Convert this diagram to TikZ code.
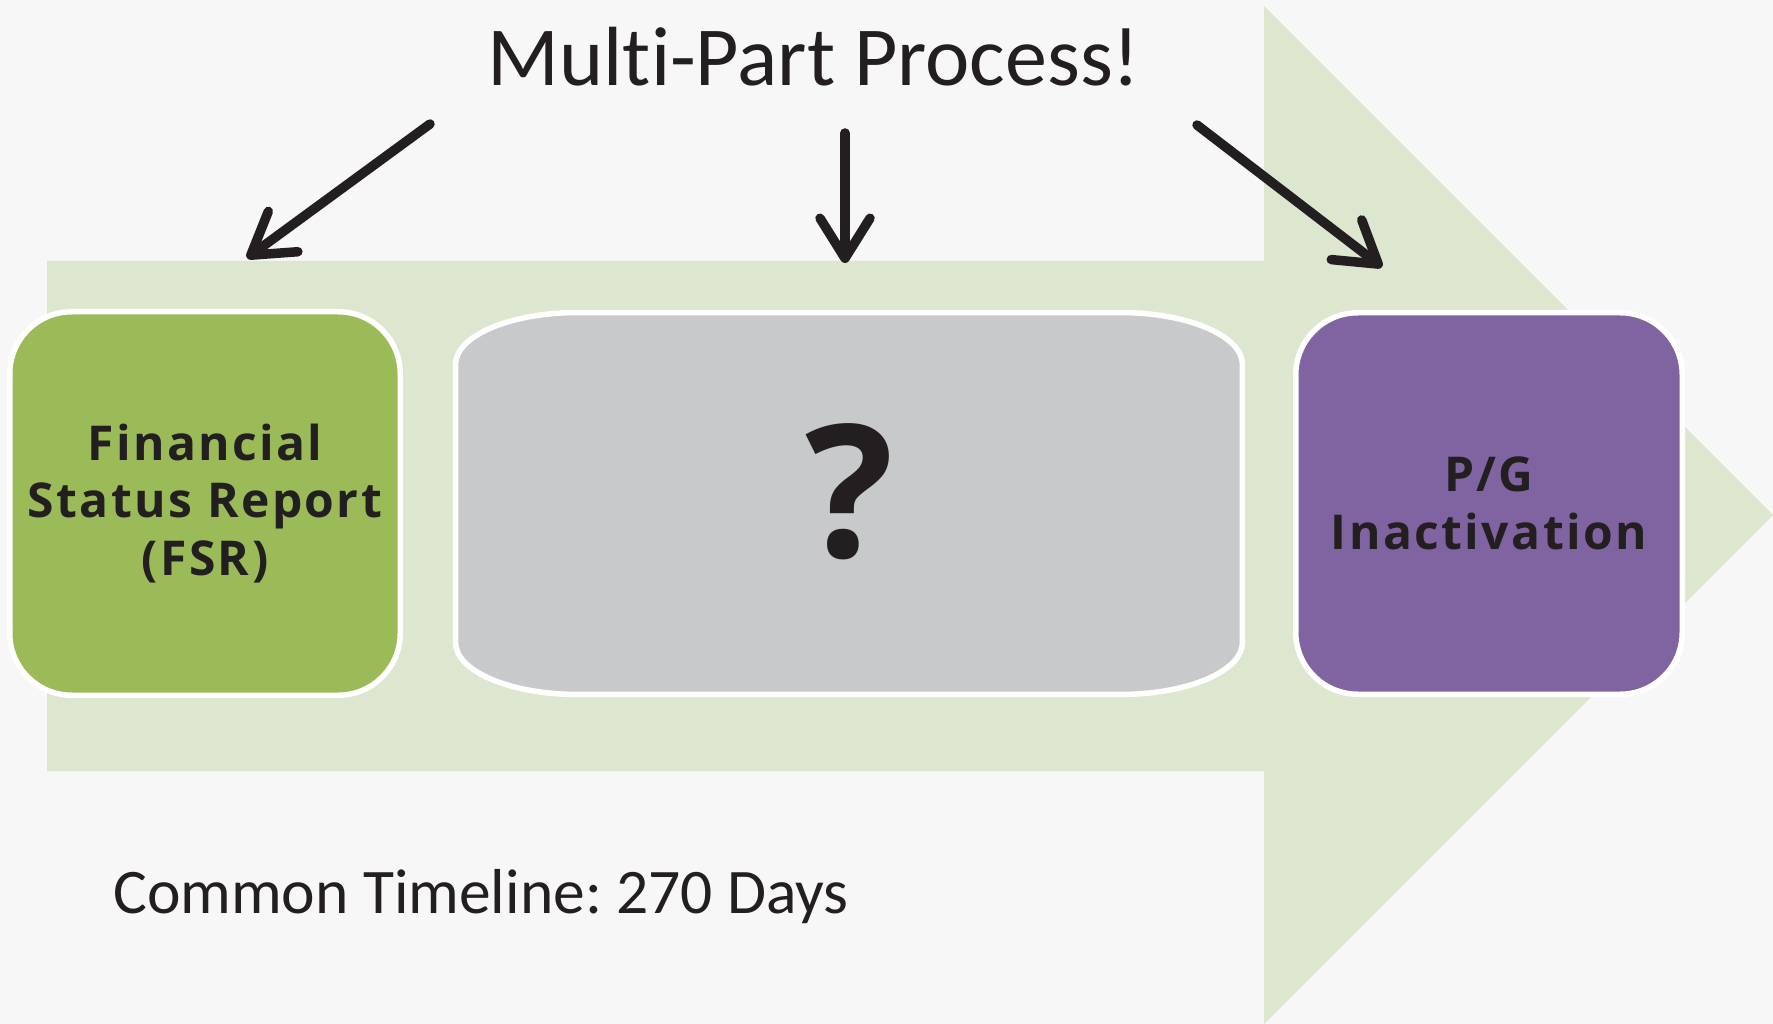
\documentclass[tikz,border=0pt]{standalone}
\usepackage{fontspec}
\setmainfont{Carlito}[Ligatures={NoCommon}]
\newfontfamily\boxfont{Open Sans}[LetterSpace=5]
\newfontfamily\qfont{Open Sans}
\usetikzlibrary{arrows.meta,calc}
\definecolor{bgc}{HTML}{F7F7F7}
\definecolor{arrowgreen}{HTML}{DDE6CF}
\definecolor{fsrgreen}{HTML}{9BBB59}
\definecolor{pgpurple}{HTML}{8064A2}
\definecolor{qgray}{HTML}{C8C9CB}
\definecolor{ink}{HTML}{231F20}
\frenchspacing
\begin{document}
\begin{tikzpicture}[x=1pt,y=1pt,
  boxstyle/.style={draw=white, line width=5.5pt, rounded corners=62pt, inner sep=0pt,
    text=ink, align=center, font=\boxfont\bfseries\fontsize{48}{57.5}\selectfont},
  pointer/.style={draw=ink, line width=9.5pt, line cap=round,
    -{Straight Barb[length=40pt,width=50pt,round]}}
]
\useasboundingbox (0,0) rectangle (1773,-1024);
\fill[bgc] (0,0) rectangle (1773,-1024);
% big background arrow
\fill[arrowgreen] (47,-261) -- (1264,-261) -- (1264,-6) -- (1773,-515)
  -- (1264,-1024) -- (1264,-771) -- (47,-771) -- cycle;
% boxes
\node[boxstyle, fill=fsrgreen, minimum width=390.5pt, minimum height=383.5pt]
  (fsr) at (205,-503.5) {Financial\\Status Report\\(FSR)};
\node[boxstyle, fill=pgpurple, minimum width=386.5pt, minimum height=381.5pt]
  (pg) at (1489,-503.5) {P/G\\Inactivation};
\node[minimum width=786.5pt, minimum height=381.5pt, inner sep=0pt] (q) at (849,-503.5) {};
\path[fill=qgray, draw=white, line width=5.5pt]
  ($(q.north west)+(122,0)$) -- ($(q.north east)+(-122,0)$)
  arc[start angle=90, end angle=0, x radius=122, y radius=52]
  -- ($(q.south east)+(0,52)$)
  arc[start angle=0, end angle=-90, x radius=122, y radius=52]
  -- ($(q.south west)+(122,0)$)
  arc[start angle=270, end angle=180, x radius=122, y radius=52]
  -- ($(q.north west)+(0,-52)$)
  arc[start angle=180, end angle=90, x radius=122, y radius=52] -- cycle;
\node[text=ink, font=\qfont\bfseries\fontsize{185}{185}\selectfont, inner sep=0pt]
  (qmark) at (850,-492) {?};
% title and note
\node[anchor=base, text=ink, font=\fontsize{84}{90}\selectfont, inner sep=0pt]
  (title) at (814,-86) {Multi-Part Process!};
\node[anchor=base west, text=ink, font=\fontsize{63.5}{70}\selectfont, inner sep=0pt]
  (note) at (113,-913) {Common Timeline: 270 Days};
% pointers
\coordinate (s1) at (430,-124);
\coordinate (e1) at (247,-258);
\coordinate (s2) at (845,-133);
\coordinate (e2) at (845,-263);
\coordinate (s3) at (1197,-125);
\coordinate (e3) at (1382,-267);
\draw[pointer] (s1) -- (e1);
\draw[pointer] (s2) -- (e2);
\draw[pointer] (s3) -- (e3);
\end{tikzpicture}
\end{document}
